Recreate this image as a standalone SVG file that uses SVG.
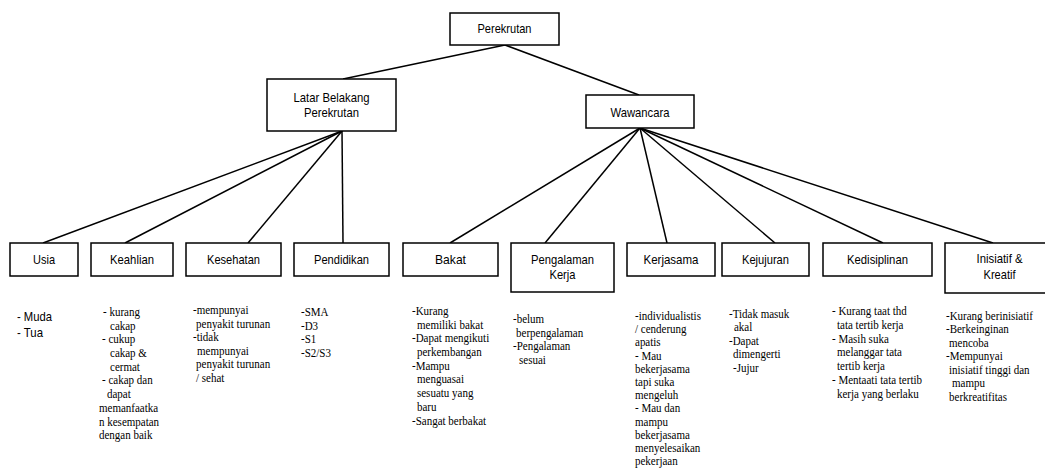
<svg xmlns="http://www.w3.org/2000/svg" width="1045" height="472" viewBox="0 0 1045 472">
  <style>
    .box { fill: #ffffff; stroke: #000000; stroke-width: 1.5; }
    .lbl { font-family: "Liberation Sans", Arial, sans-serif; font-size: 13.5px; fill: #000000; text-anchor: middle; }
    .sans { font-family: "Liberation Sans", Arial, sans-serif; font-size: 13.5px; fill: #000000; }
    .note { font-family: "Liberation Serif", "Times New Roman", serif; font-size: 13.5px; fill: #000000; }
    .note.tight { font-size: 13px; }
    .edge { stroke: #000000; stroke-width: 1.5; fill: none; }
  </style>
  <rect width="1045" height="472" fill="#ffffff"/>

  <!-- connectors -->
  <g id="connectors">
    <line class="edge" x1="505" y1="45" x2="343" y2="79"/>
    <line class="edge" x1="505" y1="45" x2="639" y2="95"/>
    <line class="edge" x1="342" y1="131" x2="43" y2="243"/>
    <line class="edge" x1="342" y1="131" x2="125" y2="243"/>
    <line class="edge" x1="342" y1="131" x2="248" y2="243"/>
    <line class="edge" x1="342" y1="131" x2="343" y2="243"/>
    <line class="edge" x1="640" y1="128" x2="450" y2="243"/>
    <line class="edge" x1="640" y1="128" x2="545" y2="243"/>
    <line class="edge" x1="640" y1="128" x2="667" y2="243"/>
    <line class="edge" x1="640" y1="128" x2="775" y2="243"/>
    <line class="edge" x1="640" y1="128" x2="883" y2="243"/>
    <line class="edge" x1="640" y1="128" x2="993" y2="243"/>
  </g>

  <!-- root -->
  <g id="perekrutan">
    <rect class="box" x="450" y="13" width="109" height="32"/>
    <text class="lbl" x="504.5" y="33" textLength="54" lengthAdjust="spacingAndGlyphs">Perekrutan</text>
  </g>

  <!-- second level -->
  <g id="latar-belakang">
    <rect class="box" x="267" y="79" width="129" height="52"/>
    <text class="lbl" x="331.5" y="102" textLength="76" lengthAdjust="spacingAndGlyphs">Latar Belakang</text>
    <text class="lbl" x="331.5" y="117" textLength="55" lengthAdjust="spacingAndGlyphs">Perekrutan</text>
  </g>
  <g id="wawancara">
    <rect class="box" x="586" y="95" width="108" height="33"/>
    <text class="lbl" x="640" y="116.5" textLength="59" lengthAdjust="spacingAndGlyphs">Wawancara</text>
  </g>

  <!-- leaves under Latar Belakang; notes are set in a condensed serif (x scaled) -->
  <g id="usia">
    <rect class="box" x="10" y="243" width="68" height="33"/>
    <text class="lbl" x="44" y="264" textLength="22" lengthAdjust="spacingAndGlyphs">Usia</text>
    <text class="sans" x="17" y="321" textLength="35" lengthAdjust="spacingAndGlyphs">- Muda</text>
    <text class="sans" x="17" y="337" textLength="26" lengthAdjust="spacingAndGlyphs">- Tua</text>
  </g>
  <g id="keahlian">
    <rect class="box" x="91" y="243" width="82" height="33"/>
    <text class="lbl" x="132" y="264" textLength="44" lengthAdjust="spacingAndGlyphs">Keahlian</text>
    <text class="note" y="316" transform="translate(99 0) scale(0.815 1)">
      <tspan x="4.9">- kurang</tspan>
      <tspan x="13.5" dy="13.7">cakap</tspan>
      <tspan x="3.7" dy="13.7">- cukup</tspan>
      <tspan x="13.5" dy="13.7">cakap &amp;</tspan>
      <tspan x="13.5" dy="13.7">cermat</tspan>
      <tspan x="3.7" dy="13.7">- cakap dan</tspan>
      <tspan x="9.8" dy="13.7">dapat</tspan>
      <tspan x="0" dy="13.7">memanfaatka</tspan>
      <tspan x="0" dy="13.7">n kesempatan</tspan>
      <tspan x="0" dy="13.7">dengan baik</tspan>
    </text>
  </g>
  <g id="kesehatan">
    <rect class="box" x="186" y="243" width="95" height="33"/>
    <text class="lbl" x="233.5" y="264" textLength="53" lengthAdjust="spacingAndGlyphs">Kesehatan</text>
    <text class="note" y="314" transform="translate(193 0) scale(0.815 1)">
      <tspan x="0">-mempunyai</tspan>
      <tspan x="3.7" dy="13.6">penyakit turunan</tspan>
      <tspan x="0" dy="13.6">-tidak</tspan>
      <tspan x="4.9" dy="13.6">mempunyai</tspan>
      <tspan x="3.7" dy="13.6">penyakit turunan</tspan>
      <tspan x="3.7" dy="13.6">/ sehat</tspan>
    </text>
  </g>
  <g id="pendidikan">
    <rect class="box" x="294" y="243" width="95" height="33"/>
    <text class="lbl" x="341.5" y="264" textLength="55" lengthAdjust="spacingAndGlyphs">Pendidikan</text>
    <text class="note" y="316" transform="translate(301 0) scale(0.815 1)">
      <tspan x="0">-SMA</tspan>
      <tspan x="0" dy="13.6">-D3</tspan>
      <tspan x="0" dy="13.6">-S1</tspan>
      <tspan x="0" dy="13.6">-S2/S3</tspan>
    </text>
  </g>

  <!-- leaves under Wawancara -->
  <g id="bakat">
    <rect class="box" x="403" y="243" width="95" height="33"/>
    <text class="lbl" x="450.5" y="264" textLength="31" lengthAdjust="spacingAndGlyphs">Bakat</text>
    <text class="note" y="315" transform="translate(412 0) scale(0.815 1)">
      <tspan x="0">-Kurang</tspan>
      <tspan x="6.1" dy="13.7">memiliki bakat</tspan>
      <tspan x="0" dy="13.7">-Dapat mengikuti</tspan>
      <tspan x="6.1" dy="13.7">perkembangan</tspan>
      <tspan x="0" dy="13.7">-Mampu</tspan>
      <tspan x="6.1" dy="13.7">menguasai</tspan>
      <tspan x="6.1" dy="13.7">sesuatu yang</tspan>
      <tspan x="6.1" dy="13.7">baru</tspan>
      <tspan x="0" dy="13.7">-Sangat berbakat</tspan>
    </text>
  </g>
  <g id="pengalaman-kerja">
    <rect class="box" x="511" y="243" width="103" height="49"/>
    <text class="lbl" x="562.5" y="264" textLength="63" lengthAdjust="spacingAndGlyphs">Pengalaman</text>
    <text class="lbl" x="562.5" y="279" textLength="26" lengthAdjust="spacingAndGlyphs">Kerja</text>
    <text class="note" y="323" transform="translate(513 0) scale(0.815 1)">
      <tspan x="0">-belum</tspan>
      <tspan x="3.7" dy="13.7">berpengalaman</tspan>
      <tspan x="0" dy="13.7">-Pengalaman</tspan>
      <tspan x="7.4" dy="13.7">sesuai</tspan>
    </text>
  </g>
  <g id="kerjasama">
    <rect class="box" x="627" y="243" width="88" height="33"/>
    <text class="lbl" x="671" y="264" textLength="55" lengthAdjust="spacingAndGlyphs">Kerjasama</text>
    <text class="note tight" y="320" transform="translate(635 0) scale(0.846 1)">
      <tspan x="0">-individualistis</tspan>
      <tspan x="0" dy="13.2">/ cenderung</tspan>
      <tspan x="0" dy="13.2">apatis</tspan>
      <tspan x="0" dy="13.2">- Mau</tspan>
      <tspan x="0" dy="13.2">bekerjasama</tspan>
      <tspan x="0" dy="13.2">tapi suka</tspan>
      <tspan x="0" dy="13.2">mengeluh</tspan>
      <tspan x="0" dy="13.2">- Mau dan</tspan>
      <tspan x="0" dy="13.2">mampu</tspan>
      <tspan x="0" dy="13.2">bekerjasama</tspan>
      <tspan x="0" dy="13.2">menyelesaikan</tspan>
      <tspan x="0" dy="13.2">pekerjaan</tspan>
    </text>
  </g>
  <g id="kejujuran">
    <rect class="box" x="722" y="243" width="87" height="33"/>
    <text class="lbl" x="765.5" y="264" textLength="47" lengthAdjust="spacingAndGlyphs">Kejujuran</text>
    <text class="note" y="318" transform="translate(729 0) scale(0.815 1)">
      <tspan x="0">-Tidak masuk</tspan>
      <tspan x="6.1" dy="13.5">akal</tspan>
      <tspan x="0" dy="13.5">-Dapat</tspan>
      <tspan x="4.9" dy="13.5">dimengerti</tspan>
      <tspan x="4.9" dy="13.5">-Jujur</tspan>
    </text>
  </g>
  <g id="kedisiplinan">
    <rect class="box" x="823" y="243" width="109" height="33"/>
    <text class="lbl" x="877.5" y="264" textLength="61" lengthAdjust="spacingAndGlyphs">Kedisiplinan</text>
    <text class="note" y="315" transform="translate(832 0) scale(0.815 1)">
      <tspan x="0">- Kurang taat thd</tspan>
      <tspan x="6.1" dy="13.8">tata tertib kerja</tspan>
      <tspan x="0" dy="13.8">- Masih suka</tspan>
      <tspan x="6.1" dy="13.8">melanggar tata</tspan>
      <tspan x="6.1" dy="13.8">tertib kerja</tspan>
      <tspan x="0" dy="13.8">- Mentaati tata tertib</tspan>
      <tspan x="6.1" dy="13.8">kerja yang berlaku</tspan>
    </text>
  </g>
  <g id="inisiatif-kreatif">
    <rect class="box" x="945" y="243" width="109" height="50"/>
    <text class="lbl" x="999.5" y="263" textLength="46" lengthAdjust="spacingAndGlyphs">Inisiatif &amp;</text>
    <text class="lbl" x="999.5" y="279" textLength="32" lengthAdjust="spacingAndGlyphs">Kreatif</text>
    <text class="note" y="320" transform="translate(946 0) scale(0.815 1)">
      <tspan x="0">-Kurang berinisiatif</tspan>
      <tspan x="0" dy="13.5">-Berkeinginan</tspan>
      <tspan x="3.7" dy="13.5">mencoba</tspan>
      <tspan x="0" dy="13.5">-Mempunyai</tspan>
      <tspan x="3.7" dy="13.5">inisiatif tinggi dan</tspan>
      <tspan x="7.4" dy="13.5">mampu</tspan>
      <tspan x="3.7" dy="13.5">berkreatifitas</tspan>
    </text>
  </g>
</svg>
